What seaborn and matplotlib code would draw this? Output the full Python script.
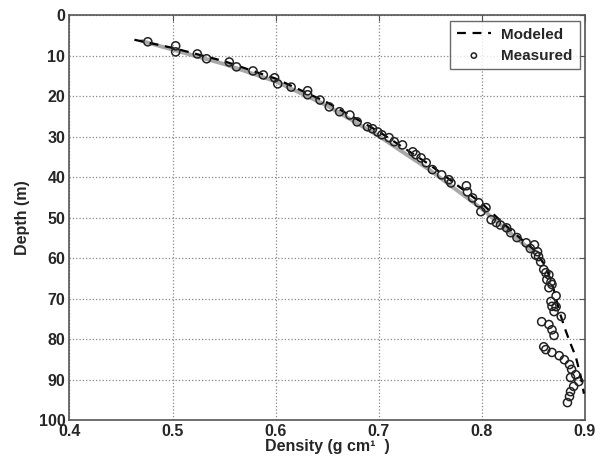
import matplotlib
matplotlib.use('Agg')
import matplotlib.pyplot as plt
import seaborn as sns
import pandas as pd

# Measured firn density profile
meas_density = [0.476, 0.503, 0.503, 0.524, 0.533, 0.555, 0.562, 0.578, 0.588, 0.599,
                0.602, 0.615, 0.631, 0.631, 0.643, 0.652, 0.662, 0.672, 0.679, 0.689,
                0.699, 0.703, 0.710, 0.715, 0.723, 0.733, 0.736, 0.746, 0.752, 0.761,
                0.768, 0.770, 0.785, 0.786, 0.791, 0.797, 0.804, 0.799, 0.809, 0.814,
                0.824, 0.828, 0.834, 0.843, 0.851, 0.854, 0.855, 0.857, 0.860, 0.865,
                0.863, 0.868, 0.865, 0.872, 0.867, 0.872, 0.870, 0.877, 0.858, 0.865,
                0.868, 0.870, 0.860, 0.862, 0.868, 0.875, 0.880, 0.885, 0.887, 0.891,
                0.886, 0.894, 0.889, 0.886, 0.885, 0.883, 0.852, 0.862, 0.867, 0.868,
                0.818, 0.847, 0.741, 0.694]
meas_depth = [6.5, 7.5, 9.0, 9.5, 10.7, 11.5, 12.7, 13.7, 14.7, 15.4,
              16.9, 17.7, 18.6, 19.6, 20.9, 22.6, 23.8, 24.6, 26.3, 27.5,
              28.8, 29.5, 30.2, 31.2, 32.0, 33.7, 34.4, 36.4, 38.1, 39.4,
              40.6, 41.4, 42.1, 43.6, 45.1, 46.3, 47.5, 48.5, 50.5, 51.2,
              52.5, 53.7, 54.9, 56.2, 56.7, 58.4, 59.6, 60.9, 62.8, 64.1,
              65.3, 66.5, 67.3, 69.3, 70.7, 72.0, 73.2, 74.4, 75.7, 76.4,
              77.7, 79.1, 81.9, 82.6, 83.3, 84.1, 85.1, 86.3, 87.5, 88.8,
              89.5, 90.5, 91.7, 93.0, 94.2, 95.7, 59.2, 63.6, 65.9, 71.9,
              51.8, 57.6, 35.2, 28.0]

# Modeled profile (dashed)
model_density = [0.463, 0.500, 0.550, 0.600, 0.650, 0.700, 0.750, 0.800, 0.830, 0.850,
                 0.862, 0.870, 0.875, 0.880, 0.885, 0.891, 0.896, 0.899]
model_depth = [6.0, 8.0, 11.3, 15.6, 21.5, 28.7, 37.0, 46.5, 53.5, 57.8,
               62.0, 68.0, 73.0, 77.0, 80.5, 84.3, 89.3, 93.5]

# Second (gray) model curve underneath
gray_density = [0.470, 0.550, 0.600, 0.650, 0.700, 0.750, 0.800, 0.830, 0.850]
gray_depth = [6.3, 12.0, 16.3, 22.3, 29.8, 38.3, 47.8, 54.3, 58.5]

meas = pd.DataFrame({'Density': meas_density, 'Depth': meas_depth})
model = pd.DataFrame({'Density': model_density, 'Depth': model_depth})
gray = pd.DataFrame({'Density': gray_density, 'Depth': gray_depth})

sns.set_style('white')
plt.rcParams['font.family'] = ['Liberation Sans', 'DejaVu Sans']
plt.rcParams['font.weight'] = 'bold'

fig = plt.figure(figsize=(6.11, 4.71), dpi=100)
ax = fig.add_axes([0.1137, 0.1083, 0.8437, 0.8588])

ax.plot(gray['Density'], gray['Depth'], color='#a8a8a8', lw=2.8, solid_capstyle='round', zorder=2)
sns.lineplot(data=model, x='Density', y='Depth', sort=False, estimator=None,
             color='black', lw=1.6, linestyle=(0, (4, 3)), ax=ax, label='Modeled', zorder=3)
sns.scatterplot(data=meas, x='Density', y='Depth', marker='o', s=34,
                facecolor='none', edgecolor='#222222', linewidth=1.1, ax=ax,
                label='Measured', zorder=4)

ax.set_xlim(0.4, 0.9)
ax.set_ylim(100, 0)
ax.set_xticks([0.4, 0.5, 0.6, 0.7, 0.8, 0.9])
ax.set_xticklabels(['0.4', '0.5', '0.6', '0.7', '0.8', '0.9'])
ax.set_yticks(range(0, 101, 10))

ax.grid(True, linestyle=':', color='#888888', linewidth=0.9)
ax.tick_params(direction='in', length=4, top=True, right=True, labelsize=11.5,
               color='#555555', pad=3)
for s in ax.spines.values():
    s.set_color('#555555')
    s.set_linewidth(1.2)

ax.set_xlabel('Density (g cm¹  )', fontsize=11.5, fontweight='bold', labelpad=0)
ax.set_ylabel('Depth (m)', fontsize=11.5, fontweight='bold', labelpad=6)

leg = ax.legend(loc='upper right', fontsize=11, frameon=True, fancybox=False,
                edgecolor='#444444', handlelength=2.2, borderpad=0.45,
                labelspacing=0.45, handletextpad=0.7, borderaxespad=0.35,
                markerscale=0.65)
leg.get_frame().set_linewidth(1.0)
for t in leg.get_texts():
    t.set_fontweight('bold')

fig.savefig('out.png', dpi=100)
